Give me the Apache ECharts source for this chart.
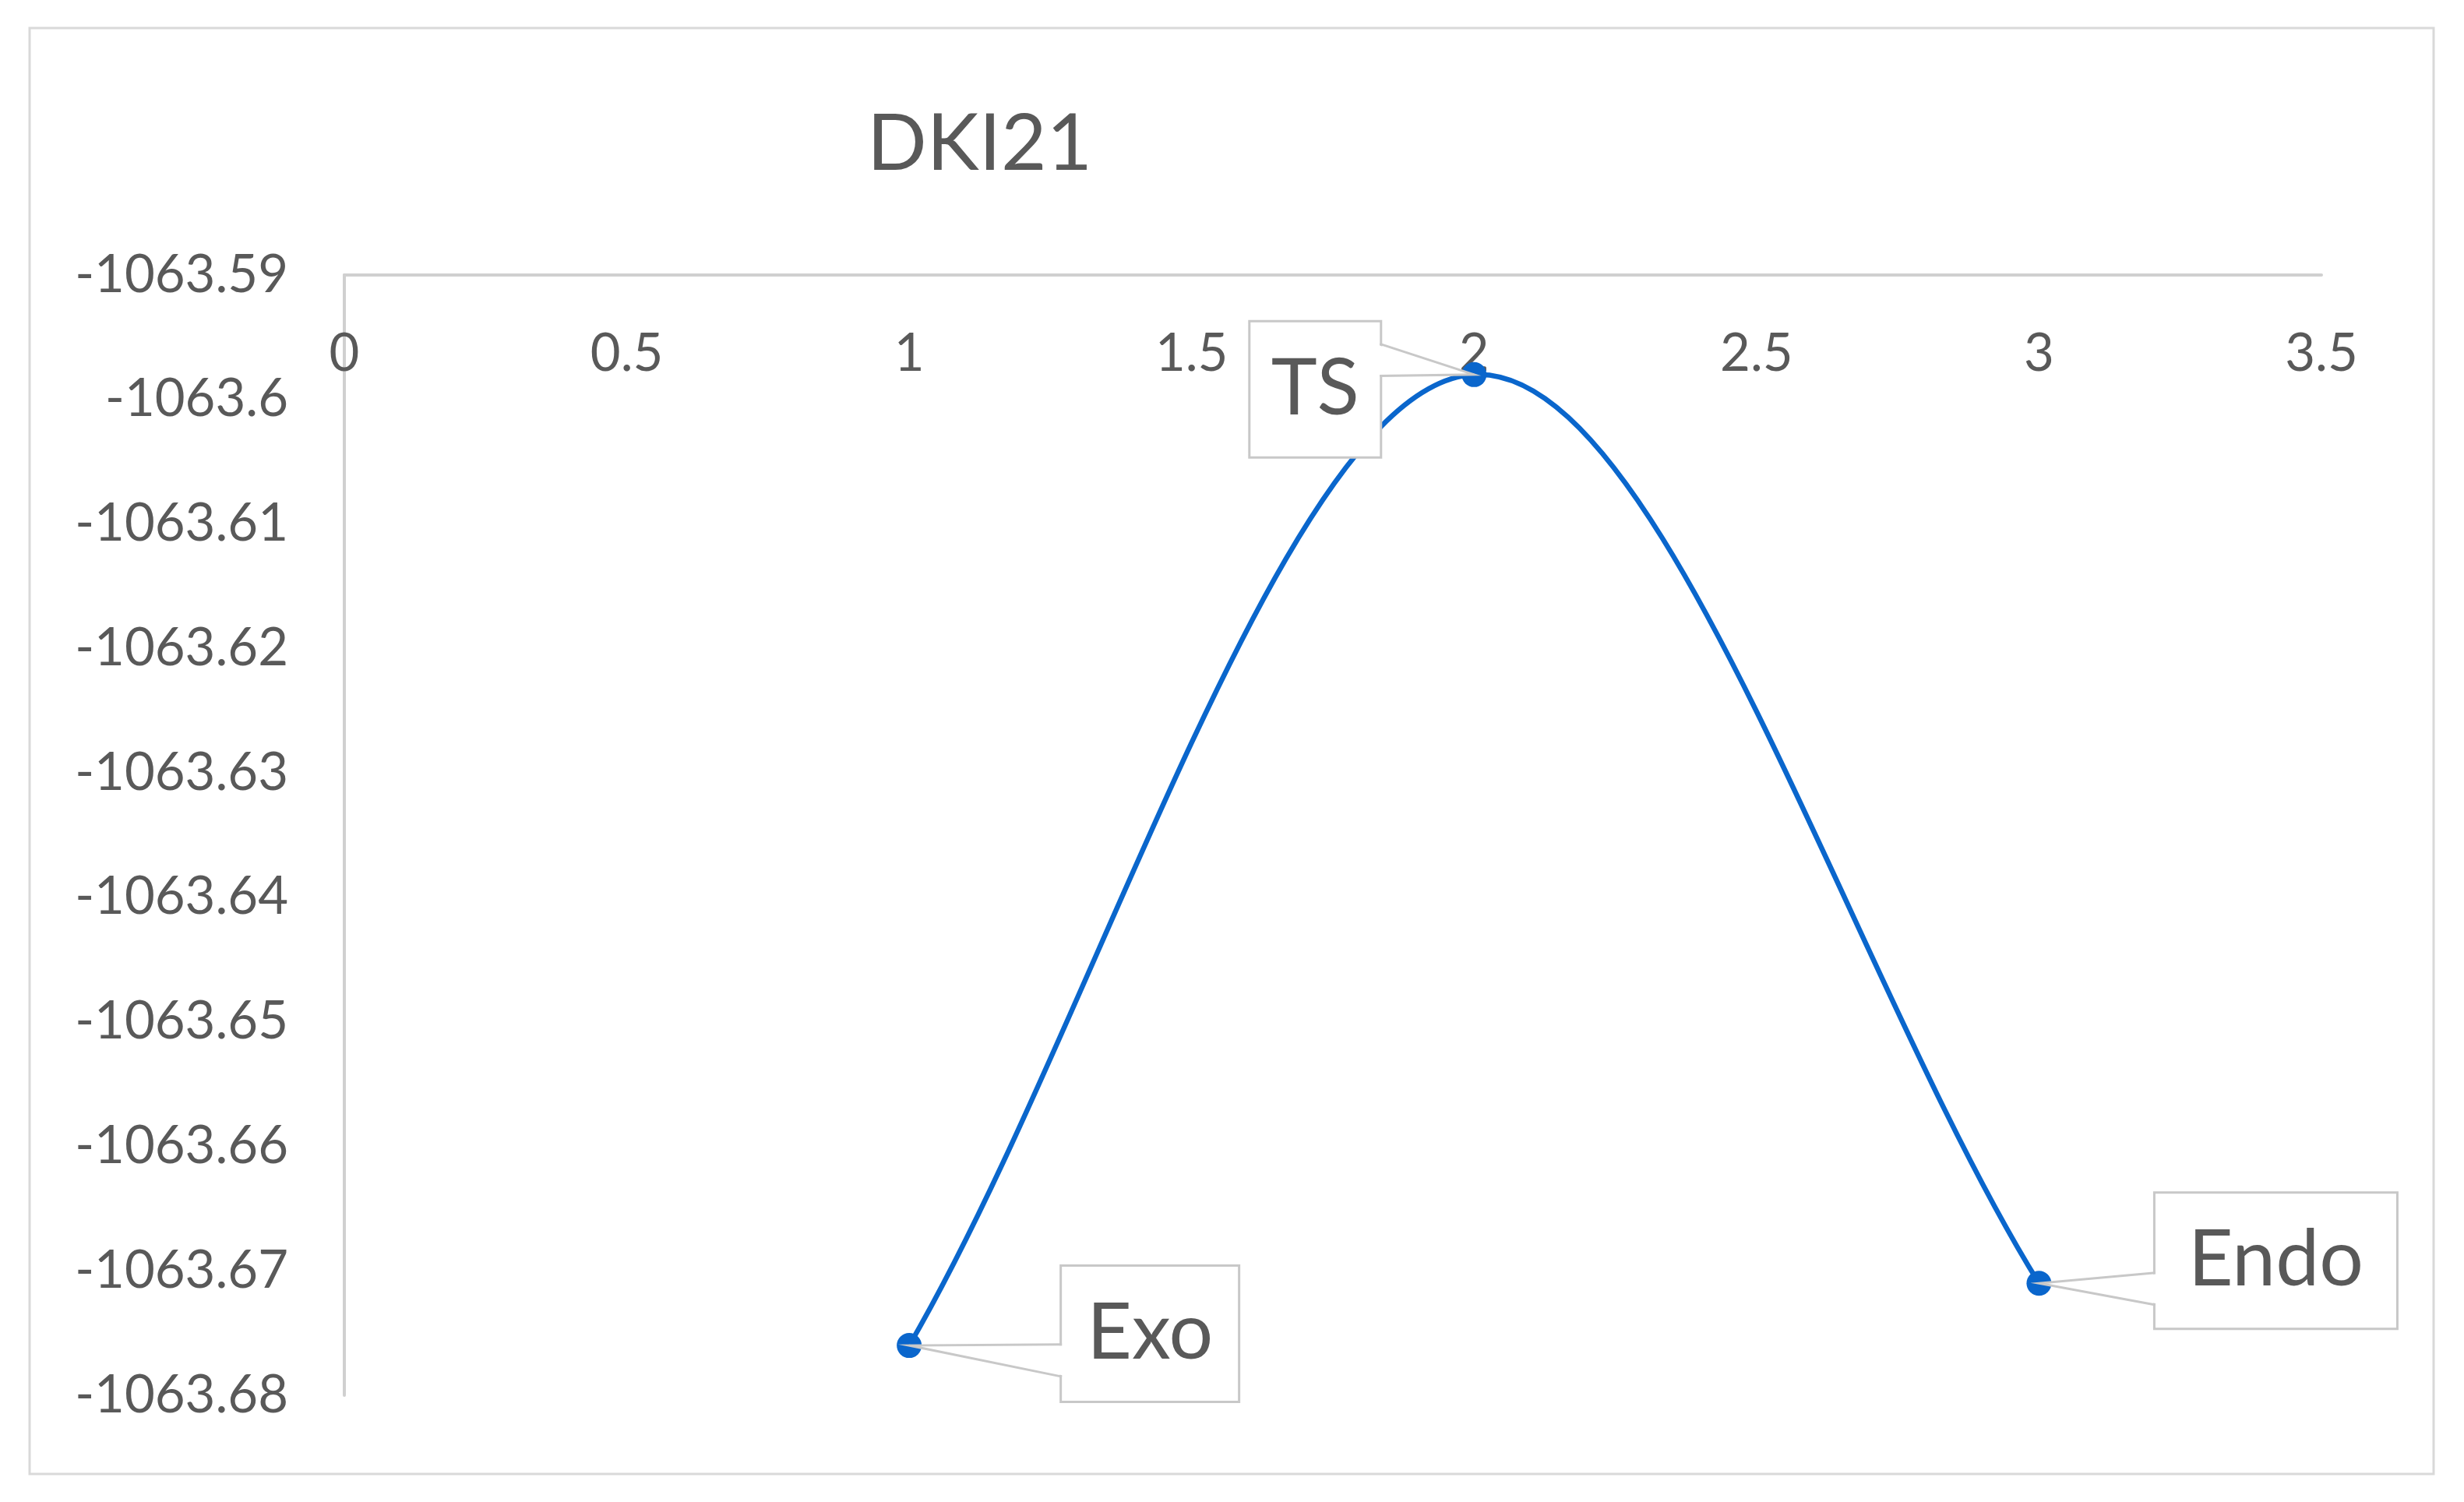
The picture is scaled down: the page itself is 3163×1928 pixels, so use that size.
<!DOCTYPE html>
<html>
<head>
<meta charset="utf-8">
<script src="https://cdn.jsdelivr.net/npm/echarts@6/dist/echarts.min.js"></script>
<style>
  html, body { margin: 0; padding: 0; background: #ffffff; }
  #chart { width: 3163px; height: 1928px; }
</style>
</head>
<body>
<div id="chart"></div>
<script>
// ---- data ----
const titleText = 'DKI21';
const pointNames = ['Exo', 'TS', 'Endo'];
const xValues = [1, 2, 3];
const yValues = [-1063.676, -1063.598, -1063.671];
const xAxisMin = 0, xAxisMax = 3.5, xAxisStep = 0.5;
const yAxisMin = -1063.68, yAxisMax = -1063.59, yAxisStep = 0.01;

// ---- label callout layout (style only, pixels) ----
const labelLayout = {
  Exo:  { offset: [309, -15], width: 226, side: 'left',  attach: [0.58, 0.82] },
  TS:   { offset: [-204, 19], width: 166, side: 'right', attach: [0.16, 0.40] },
  Endo: { offset: [304, -29], width: 309, side: 'left',  attach: [0.59, 0.83] }
};

const FONT = 'Lato';
const TEXT_COLOR = '#595959';
const AXIS_GRAY = '#d0d0d0';
const CALLOUT_GRAY = '#c8c8c8';
const LINE_BLUE = '#0A66CC';
const LABEL_FONT = 100;
const LABEL_PAD_V = 36;
const BOX_H = LABEL_FONT + 2 * LABEL_PAD_V;

const points = xValues.map((x, i) => [x, yValues[i]]);

const seriesData = points.map((p, i) => {
  const lay = labelLayout[pointNames[i]];
  return {
    name: pointNames[i],
    value: p,
    label: { offset: lay.offset, width: lay.width }
  };
});

// Excel-like smoothed curve: cubic Bezier through data points (pixel space via axes)
function renderCurve(params, api) {
  if (params.dataIndexInside !== 0) return null;
  const n = params.dataInsideLength;
  const P = [];
  for (let i = 0; i < n; i++) P.push(api.coord([api.value(0, i), api.value(1, i)]));
  const children = [];
  for (let i = 0; i < n - 1; i++) {
    const a = P[i], b = P[i + 1];
    let c1, c2;
    if (i === 0) c1 = [a[0] + (b[0] - a[0]) / 3, a[1] + (b[1] - a[1]) / 3];
    else c1 = [a[0] + (b[0] - P[i - 1][0]) / 6, a[1] + (b[1] - P[i - 1][1]) / 6];
    if (i + 1 === n - 1) c2 = [b[0] - (b[0] - a[0]) / 3, b[1] - (b[1] - a[1]) / 3];
    else c2 = [b[0] - (P[i + 2][0] - a[0]) / 6, b[1] - (P[i + 2][1] - a[1]) / 6];
    children.push({
      type: 'bezierCurve',
      shape: { x1: a[0], y1: a[1], x2: b[0], y2: b[1], cpx1: c1[0], cpy1: c1[1], cpx2: c2[0], cpy2: c2[1] },
      style: { stroke: LINE_BLUE, lineWidth: 6.5, fill: null, lineCap: 'round' }
    });
  }
  return { type: 'group', children: children };
}

// Callout wedge from the point to the label box edge
function renderCallout(params, api) {
  const idx = params.dataIndexInside;
  const lay = labelLayout[pointNames[params.dataIndex]];
  const p = api.coord([api.value(0, idx), api.value(1, idx)]);
  const cx = p[0] + lay.offset[0], cy = p[1] + lay.offset[1];
  const w = lay.width, h = BOX_H;
  const top = cy - h / 2;
  const edgeX = lay.side === 'left' ? cx - w / 2 : cx + w / 2;
  const inward = lay.side === 'left' ? 1 : -1;
  const ay = top + lay.attach[0] * h, by = top + lay.attach[1] * h;
  return {
    type: 'group',
    children: [
      {
        type: 'polygon',
        shape: { points: [[edgeX + inward * 3, ay + 1.5], [p[0], p[1]], [edgeX + inward * 3, by - 1.5]] },
        style: { fill: '#ffffff', stroke: null }
      },
      {
        type: 'polyline',
        shape: { points: [[edgeX, ay], [p[0], p[1]], [edgeX, by]] },
        style: { stroke: CALLOUT_GRAY, lineWidth: 3, fill: null }
      }
    ]
  };
}

const chart = echarts.init(document.getElementById('chart'), null, { renderer: 'canvas' });

const option = {
  backgroundColor: '#ffffff',
  animation: false,
  title: {
    text: titleText,
    left: 1108,
    top: 130,
    textStyle: { fontFamily: FONT, fontSize: 101, fontWeight: 'normal', color: TEXT_COLOR }
  },
  graphic: [{
    type: 'rect',
    shape: { x: 38, y: 36, width: 3086, height: 1856 },
    style: { fill: 'none', stroke: '#d9d9d9', lineWidth: 3 },
    silent: true,
    z: -1
  }],
  grid: {
    left: 442, top: 353, width: 2538, height: 1438,
    containLabel: false,
    outerBoundsMode: 'none'
  },
  xAxis: {
    type: 'value',
    position: 'top',
    min: xAxisMin, max: xAxisMax, interval: xAxisStep,
    axisLine: { show: true, lineStyle: { color: AXIS_GRAY, width: 4 } },
    axisTick: { show: false },
    splitLine: { show: false },
    axisLabel: {
      inside: true,
      margin: 68,
      fontFamily: FONT, fontSize: 67, color: TEXT_COLOR,
      formatter: v => String(parseFloat(Number(v).toFixed(2)))
    }
  },
  yAxis: {
    type: 'value',
    min: yAxisMin, max: yAxisMax, interval: yAxisStep,
    axisLine: { show: true, lineStyle: { color: AXIS_GRAY, width: 4 } },
    axisTick: { show: false },
    splitLine: { show: false },
    axisLabel: {
      margin: 72,
      fontFamily: FONT, fontSize: 67, color: TEXT_COLOR,
      formatter: v => String(parseFloat(Number(v).toFixed(2)))
    }
  },
  series: [
    {
      type: 'custom',
      name: 'curve',
      data: points,
      renderItem: renderCurve,
      silent: true,
      z: 1
    },
    {
      type: 'line',
      name: 'points',
      data: seriesData,
      symbol: 'circle',
      symbolSize: 32,
      itemStyle: { color: LINE_BLUE },
      lineStyle: { width: 0, opacity: 0 },
      label: {
        show: true,
        position: 'inside',
        formatter: p => p.name,
        fontFamily: FONT,
        fontSize: LABEL_FONT,
        lineHeight: LABEL_FONT,
        color: TEXT_COLOR,
        align: 'center',
        verticalAlign: 'middle',
        backgroundColor: '#ffffff',
        borderColor: CALLOUT_GRAY,
        borderWidth: 3,
        padding: [LABEL_PAD_V, 0]
      },
      emphasis: { disabled: true },
      z: 2
    },
    {
      type: 'custom',
      name: 'callouts',
      data: points,
      renderItem: renderCallout,
      silent: true,
      z: 3
    }
  ]
};

chart.setOption(option);
</script>
</body>
</html>
